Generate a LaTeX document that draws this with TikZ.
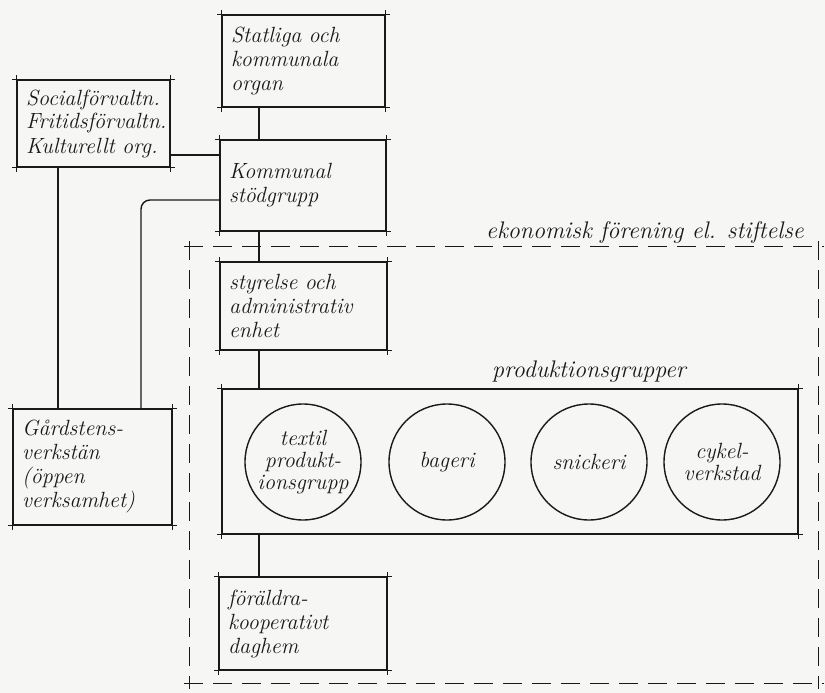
\documentclass[tikz,border=0pt]{standalone}
\usetikzlibrary{calc}
\begin{document}
\definecolor{paper}{RGB}{246,246,244}
\definecolor{ink}{RGB}{25,25,25}
\begin{tikzpicture}[x=1pt,y=-1pt,
  line width=1.4pt, draw=ink,
  every node/.style={font=\fontsize{22}{24}\selectfont\itshape, text=ink},
  ske/.style={draw=ink, line width=1.4pt, shorten <=-4pt, shorten >=-4pt},
  eske/.style={draw=ink, line width=1.4pt, dash pattern=on 19pt off 10pt, shorten <=-5pt, shorten >=-5pt},
  sbox/.style={draw=ink, line width=1.4pt, inner xsep=9pt, inner ysep=0pt, align=left,
    append after command={
      (\tikzlastnode.north west) edge[ske] (\tikzlastnode.north east)
      (\tikzlastnode.north east) edge[ske] (\tikzlastnode.south east)
      (\tikzlastnode.south east) edge[ske] (\tikzlastnode.south west)
      (\tikzlastnode.south west) edge[ske] (\tikzlastnode.north west)}},
  dbox/.style={inner sep=0pt,
    append after command={
      (\tikzlastnode.north west) edge[eske] (\tikzlastnode.north east)
      (\tikzlastnode.north east) edge[eske] (\tikzlastnode.south east)
      (\tikzlastnode.south west) edge[eske] (\tikzlastnode.south east)
      (\tikzlastnode.north west) edge[eske] (\tikzlastnode.south west)}},
  grp/.style={circle, draw=ink, line width=1.4pt, minimum size=116pt, inner sep=0pt, align=center,
    font=\fontsize{22}{22}\selectfont\itshape},
  lbl/.style={inner sep=0pt, font=\fontsize{24}{26}\selectfont\itshape}
]
\useasboundingbox[fill=paper] (0,0) rectangle (825,693);

% outer dashed region
\node[dbox, minimum width=628pt, minimum height=436pt] (eko) at (504,465) {};
\node[lbl] (ekol) at (645,232) {ekonomisk förening el. stiftelse};

% boxes
\node[sbox, text width=145pt, minimum height=92pt] (stat) at (303.5,61) {Statliga och\\kommunala\\organ};
\node[sbox, text width=135pt, minimum height=87pt] (soc) at (93.5,123.5) {Socialförvaltn.\\Fritidsförvaltn.\\Kulturellt org.};
\node[sbox, text width=148pt, minimum height=91pt] (komm) at (303,185.5) {Kommunal\\stödgrupp};
\node[sbox, text width=149pt, minimum height=88pt] (styr) at (303.5,306) {styrelse och\\administrativ\\enhet};
\node[sbox, text width=141pt, minimum height=116pt] (gard) at (92.5,467) {Gårdstens-\\verkstän\\(öppen\\verksamhet)};
\node[sbox, text width=558pt, minimum height=145pt] (prod) at (510,461.5) {};
\node[lbl] (prodl) at (589,372) {produktionsgrupper};
\node[sbox, text width=150pt, minimum height=93pt] (fora) at (303,623.5) {föräldra-\\kooperativt\\daghem};

% production groups
\node[grp] (tex) at (303,462) {textil\\produkt-\\ionsgrupp};
\node[grp] (bag) at (447,462) {bageri};
\node[grp] (sni) at (589,462) {snickeri};
\node[grp] (cyk) at (722,462) {cykel-\\verkstad};

% connectors
\coordinate (tr) at (259,0);
\coordinate (v1) at (58,0);
\coordinate (v2) at (141,0);
\coordinate (h1) at (0,155);
\coordinate (h2) at (0,200);
\draw (stat.south -| tr) -- (komm.north -| tr);
\draw (komm.south -| tr) -- (styr.north -| tr);
\draw (styr.south -| tr) -- (prod.north -| tr);
\draw (prod.south -| tr) -- (fora.north -| tr);
\draw (soc.east |- h1) -- (komm.west |- h1);
\draw (soc.south -| v1) -- (gard.north -| v1);
\draw[rounded corners=9pt] (komm.west |- h2) -| (gard.north -| v2);
\end{tikzpicture}
\end{document}
